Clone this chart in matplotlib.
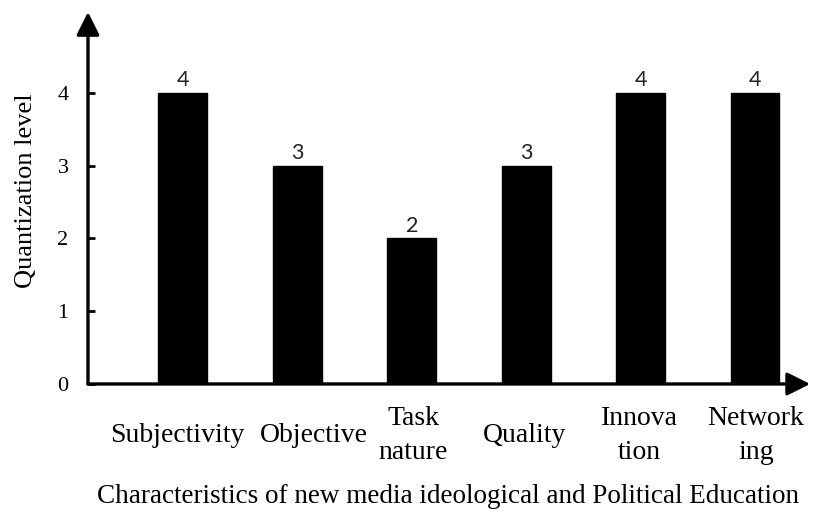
import matplotlib
matplotlib.use("Agg")
import matplotlib.pyplot as plt
import matplotlib.transforms as mtransforms
import numpy as np

categories = ["Subjectivity", "Objective", "Task\nnature", "Quality", "Innova\ntion", "Network\ning"]
values = [4, 3, 2, 3, 4, 4]
yticks = [0, 1, 2, 3, 4]
xlabel = "Characteristics of new media ideological and Political Education"
ylabel = "Quantization level"

serif = "Liberation Serif"
# small horizontal nudges (points) of the category labels, as in the reference layout
label_nudge_pt = [-4, 12, 1, -1.5, -1, 0.5]

fig = plt.figure(figsize=(8.14, 5.15), dpi=100)
ax = fig.add_axes([0.1081, 0.2544, 0.8845, 0.7223])

x = np.arange(len(categories))
bars = ax.bar(x, values, width=0.428, color="black", edgecolor="black", zorder=2)

for rect, v in zip(bars, values):
    ax.annotate(str(v), xy=(rect.get_x() + rect.get_width() / 2, rect.get_height()),
                xytext=(0, 2), textcoords="offset points", ha="center", va="bottom",
                fontsize=15.5, family="Lato", color="#222222")

ax.set_xlim(-0.830, 5.463)
ax.set_ylim(0, 5.113)

for s in ax.spines.values():
    s.set_visible(False)

# axis lines with arrowheads
arrow = dict(arrowstyle="-|>,head_length=0.7,head_width=0.35", color="black",
             lw=2.4, mutation_scale=20, shrinkA=0, shrinkB=0)
ax.annotate("", xy=(0, 1), xytext=(0, 0), xycoords="axes fraction",
            textcoords="axes fraction", arrowprops=arrow, annotation_clip=False)
ax.annotate("", xy=(1.003, 0), xytext=(0, 0), xycoords="axes fraction",
            textcoords="axes fraction", arrowprops=arrow, annotation_clip=False)

ax.set_yticks(yticks)
ax.set_yticklabels([str(t) for t in yticks], family=serif, fontsize=16)
ax.tick_params(axis="y", direction="in", length=5, width=2, pad=14)

ax.set_xticks(x)
ax.set_xticklabels(categories, family=serif, fontsize=20, linespacing=1.45)
ax.tick_params(axis="x", length=0, pad=37)
for lab, dx in zip(ax.get_xticklabels(), label_nudge_pt):
    lab.set_va("center")
    lab.set_multialignment("center")
    lab.set_transform(lab.get_transform() +
                      mtransforms.ScaledTranslation(dx / 72, 0, fig.dpi_scale_trans))

ax.set_xlabel(xlabel, family=serif, fontsize=19.5, labelpad=14)
ax.set_ylabel(ylabel, family=serif, fontsize=19)
ax.yaxis.set_label_coords(-0.071, 0.52)

fig.savefig("out.png", dpi=100)
